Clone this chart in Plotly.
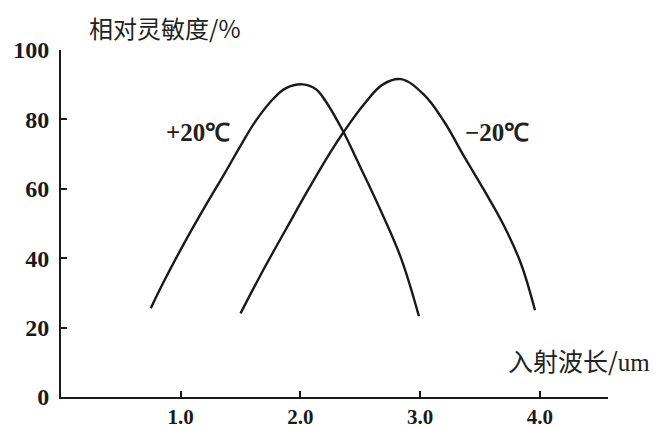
import plotly.graph_objects as go

# Data
wavelength_p20 = [0.75, 0.87, 1.04, 1.21, 1.37, 1.48, 1.62, 1.77, 1.88, 2.02, 2.13, 2.21, 2.35, 2.50, 2.67, 2.84, 2.99]
sens_p20 = [25.6, 34.0, 45.0, 55.3, 64.6, 71.2, 79.2, 85.8, 89.0, 90.1, 88.7, 85.3, 77.0, 66.3, 53.8, 40.1, 23.3]

wavelength_m20 = [1.50, 1.69, 1.89, 2.08, 2.25, 2.36, 2.53, 2.69, 2.84, 3.03, 3.20, 3.36, 3.53, 3.70, 3.84, 3.96]
sens_m20 = [24.1, 36.6, 49.0, 60.6, 70.5, 76.3, 84.3, 90.1, 91.6, 87.2, 79.4, 69.8, 59.9, 49.4, 38.7, 25.0]

x_ticks = [1.0, 2.0, 3.0, 4.0]
x_tick_labels = ["1.0", "2.0", "3.0", "4.0"]
y_ticks = [0, 20, 40, 60, 80, 100]
y_tick_labels = ["0", "20", "40", "60", "80", "100"]

line_color = "#1a1a1a"
serif = "Liberation Serif, Times New Roman, serif"
cjk = "Noto Sans CJK SC, sans-serif"

fig = go.Figure()
for xs, ys in ((wavelength_p20, sens_p20), (wavelength_m20, sens_m20)):
    fig.add_trace(go.Scatter(x=xs, y=ys, mode="lines",
                             line=dict(color=line_color, width=2.4, shape="spline", smoothing=1.1),
                             showlegend=False, hoverinfo="skip"))

ytickfont = dict(family=serif, size=24, color="#1a1a1a", weight="bold")
xtickfont = dict(family=serif, size=21, color="#1a1a1a", weight="bold")

# page body has an 8px default margin, so the figure is sized to fit the window
fig.update_layout(
    width=650, height=420,
    margin=dict(l=53, r=50, t=42, b=31),
    paper_bgcolor="white", plot_bgcolor="white",
    xaxis=dict(range=[0, 4.57], showgrid=False, zeroline=False, automargin=False,
               showline=True, linecolor=line_color, linewidth=2,
               ticks="inside", ticklen=6, tickwidth=2, tickcolor=line_color,
               tickvals=x_ticks, ticktext=x_tick_labels, tickfont=xtickfont),
    yaxis=dict(range=[0, 100], showgrid=False, zeroline=False, automargin=False,
               showline=True, linecolor=line_color, linewidth=2,
               ticks="inside", ticklen=6, tickwidth=2, tickcolor=line_color,
               ticklabelstandoff=5,
               tickvals=y_ticks, ticktext=y_tick_labels, tickfont=ytickfont),
    annotations=[
        dict(text="相对灵敏度/%", xref="paper", yref="paper", x=0.19, y=1.065,
             xanchor="center", yanchor="middle",
             showarrow=False, font=dict(family=cjk, size=24, color="#222")),
        dict(text="入射波长/<span style='font-family:Liberation Serif'>um</span>",
             xref="x", yref="y", x=4.33, y=10.7, xanchor="center", yanchor="middle",
             showarrow=False, font=dict(family=cjk, size=25, color="#222")),
        dict(text="+20℃", xref="x", yref="y", x=1.145, y=76.1,
             showarrow=False, font=dict(family=serif, size=25, color="#222", weight="bold")),
        dict(text="−20℃", xref="x", yref="y", x=3.645, y=76.1,
             showarrow=False, font=dict(family=serif, size=25, color="#222", weight="bold")),
    ],
)

fig.write_html("out.html")
